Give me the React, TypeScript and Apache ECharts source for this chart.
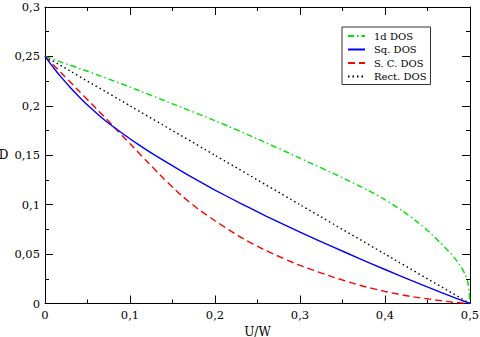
import React, { useEffect, useRef } from 'react';
import * as echarts from 'echarts';

const FONT = 'DejaVu Serif';

// 1d DOS
const U_1D = [0, 0.02, 0.05, 0.1, 0.15, 0.2, 0.25, 0.3, 0.35, 0.38, 0.4, 0.42, 0.44, 0.455, 0.465, 0.478, 0.488, 0.494, 0.497, 0.499, 0.5];
const D_1D = [0.25, 0.244, 0.235, 0.219, 0.202, 0.185, 0.1665, 0.147, 0.1272, 0.1145, 0.105, 0.094, 0.0812, 0.07, 0.0615, 0.05, 0.039, 0.03, 0.023, 0.013, 0];

// Sq. DOS
const U_SQ = [0, 0.01, 0.02, 0.03, 0.04, 0.05, 0.07, 0.09, 0.11, 0.135, 0.16, 0.18, 0.2, 0.23, 0.26, 0.3, 0.34, 0.37, 0.4, 0.43, 0.465, 0.5];
const D_SQ = [0.25, 0.2385, 0.228, 0.2183, 0.2093, 0.2009, 0.1857, 0.1728, 0.1608, 0.147, 0.1342, 0.1243, 0.1148, 0.1013, 0.0885, 0.0722, 0.0567, 0.0455, 0.0344, 0.0236, 0.0115, 0];

// S. C. DOS
const U_SC = [0, 0.02, 0.04, 0.06, 0.08, 0.1, 0.12, 0.14, 0.16, 0.18, 0.2, 0.23, 0.26, 0.3, 0.34, 0.37, 0.4, 0.43, 0.46, 0.48, 0.5];
const D_SC = [0.25, 0.2325, 0.215, 0.1975, 0.1797, 0.1617, 0.1437, 0.126, 0.1097, 0.0957, 0.0837, 0.0672, 0.0535, 0.0385, 0.0265, 0.0185, 0.0122, 0.0072, 0.0035, 0.0013, 0];

// Rect. DOS
const U_RECT = [0, 0.1, 0.2, 0.3, 0.4, 0.5];
const D_RECT = [0.25, 0.2, 0.15, 0.1, 0.05, 0];

const NAMES = ['1d DOS', 'Sq. DOS', 'S. C. DOS', 'Rect. DOS'];

const zip = (u: number[], d: number[]) => u.map((x, i) => [x, d[i]]);

const fmt = (v: number) => (v === 0 ? '0' : String(+v.toFixed(3)).replace('.', ','));

function xAxisBase(pos: 'top' | 'bottom', labels: boolean) {
  return {
    type: 'value',
    min: 0,
    max: 0.5,
    interval: 0.1,
    position: pos,
    axisLine: { show: true, onZero: false, lineStyle: { color: '#000', width: 1 } },
    axisTick: { show: true, inside: true, length: 8, lineStyle: { color: '#000', width: 1 } },
    minorTick: { show: true, splitNumber: 2, length: 4, lineStyle: { color: '#000', width: 1 } },
    splitLine: { show: false },
    axisLabel: { show: labels, fontFamily: FONT, fontSize: 11.5, color: '#000', margin: 5, formatter: fmt },
  };
}

function yAxisBase(pos: 'left' | 'right', labels: boolean) {
  return {
    type: 'value',
    min: 0,
    max: 0.3,
    interval: 0.05,
    position: pos,
    axisLine: { show: true, onZero: false, lineStyle: { color: '#000', width: 1 } },
    axisTick: { show: true, inside: true, length: 8, lineStyle: { color: '#000', width: 1 } },
    minorTick: { show: true, splitNumber: 2, length: 4, lineStyle: { color: '#000', width: 1 } },
    splitLine: { show: false },
    axisLabel: { show: labels, fontFamily: FONT, fontSize: 11.5, color: '#000', margin: 5, formatter: fmt },
  };
}

export default function App() {
  const ref = useRef<HTMLDivElement>(null);
  useEffect(() => {
    if (!ref.current) return;
    const chart = echarts.init(ref.current, undefined, { renderer: 'svg' });
    const lineSeries = (name: string, data: number[][], color: string, type: any, z: number) => ({
      name,
      type: 'line',
      data,
      symbol: 'none',
      showSymbol: false,
      smooth: 0.2,
      z,
      lineStyle: { color, width: 1.4, type },
      itemStyle: { color },
    });
    chart.setOption({
      animation: false,
      backgroundColor: '#fff',
      textStyle: { fontFamily: FONT },
      grid: { left: 45, right: 10, top: 7, bottom: 33.5, containLabel: false, outerBoundsMode: 'none' },
      xAxis: [
        { ...xAxisBase('bottom', true), name: 'U/W', nameLocation: 'middle', nameGap: 22, nameTextStyle: { fontFamily: FONT, fontSize: 12, color: '#000' } },
        xAxisBase('top', false),
      ],
      yAxis: [
        { ...yAxisBase('left', true), name: 'D', nameLocation: 'middle', nameRotate: 0, nameGap: 35, nameTextStyle: { fontFamily: FONT, fontSize: 12, color: '#000' } },
        yAxisBase('right', false),
      ],
      legend: {
        data: NAMES,
        orient: 'vertical',
        left: 342,
        top: 27,
        itemWidth: 17,
        itemHeight: 12,
        itemGap: 1.5,
        padding: [3, 4, 2, 5],
        borderColor: '#333',
        borderWidth: 1,
        backgroundColor: '#fff',
        selectedMode: false,
        itemStyle: { opacity: 0 },
        textStyle: { fontFamily: FONT, fontSize: 10, color: '#000', lineHeight: 12, padding: [0, 0, 0, 4] },
      },
      series: [
        lineSeries(NAMES[3], zip(U_RECT, D_RECT), '#000', [1.5, 3], 1),
        lineSeries(NAMES[0], zip(U_1D, D_1D), '#00e000', [6, 3, 1.5, 3], 2),
        lineSeries(NAMES[2], zip(U_SC, D_SC), '#ff0000', [7, 4], 3),
        lineSeries(NAMES[1], zip(U_SQ, D_SQ), '#0000ff', 'solid', 4),
      ],
    });
    return () => chart.dispose();
  }, []);
  return <div ref={ref} style={{ position: 'fixed', left: 0, top: 0, width: 480, height: 337 }} />;
}
